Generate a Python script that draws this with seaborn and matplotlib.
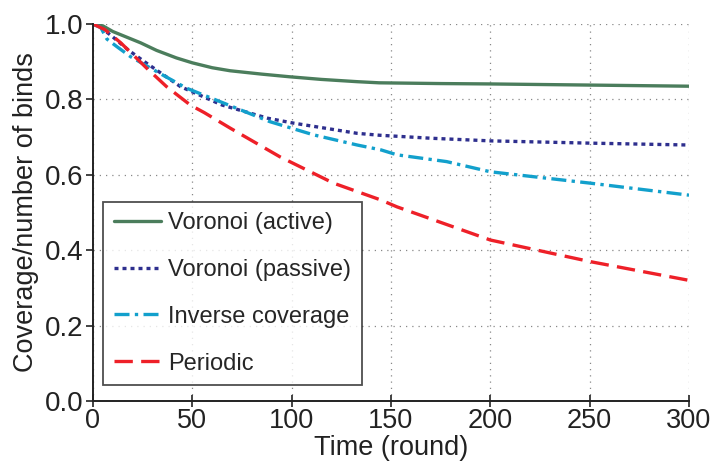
import numpy as np
import pandas as pd
import seaborn as sns
import matplotlib.pyplot as plt

# values
t_active = [0, 5, 10, 17, 24, 32, 42, 50, 60, 69, 85, 99, 115, 133, 144, 175, 200, 250, 300]
v_active = [1.0, 0.995, 0.98, 0.965, 0.95, 0.93, 0.91, 0.897, 0.884, 0.876, 0.867, 0.86, 0.853, 0.847, 0.844, 0.842, 0.841, 0.838, 0.835]

t_passive = [0, 4, 9, 18, 27, 44, 65, 88, 101, 133, 144, 170, 200, 250, 300]
v_passive = [1.0, 0.99, 0.97, 0.93, 0.896, 0.834, 0.785, 0.75, 0.737, 0.71, 0.705, 0.697, 0.69, 0.684, 0.679]

t_inverse = [0, 4, 7, 12, 19, 35, 47, 64, 89, 111, 133, 145, 153, 178, 200, 250, 300]
v_inverse = [1.0, 0.99, 0.96, 0.94, 0.913, 0.865, 0.83, 0.794, 0.741, 0.706, 0.679, 0.666, 0.653, 0.635, 0.608, 0.578, 0.546]

t_periodic = [0, 6, 14, 27, 37, 49, 56, 69, 94, 121, 145, 153, 200, 250, 300]
v_periodic = [1.0, 0.985, 0.95, 0.883, 0.834, 0.785, 0.765, 0.724, 0.648, 0.578, 0.533, 0.515, 0.427, 0.37, 0.32]

labels = ['Voronoi (active)', 'Voronoi (passive)', 'Inverse coverage', 'Periodic']
colors = ['#4b7d5c', '#2e2f8e', '#12a0cc', '#ee2028']
dashes = [(None, None), (1.2, 1.2), (4.5, 1.6, 1.0, 1.6), (5.5, 2.5)]

sns.set_style('ticks')
plt.rcParams['font.family'] = ['Liberation Sans', 'DejaVu Sans']

fig, ax = plt.subplots(figsize=(7.13, 4.67), dpi=100)
fig.subplots_adjust(left=93/713, right=689/713, bottom=1-401/467, top=1-24/467)

series = [(t_active, v_active), (t_passive, v_passive), (t_inverse, v_inverse), (t_periodic, v_periodic)]
for (t, v), lab, col, d in zip(series, labels, colors, dashes):
    line = sns.lineplot(x=t, y=v, ax=ax, color=col, label=lab, linewidth=2.4).lines[-1]
    if d[0] is not None:
        line.set_dashes(d)

ax.set_xlim(0, 300)
ax.set_ylim(0, 1.0)
ax.set_xticks([0, 50, 100, 150, 200, 250, 300])
ax.set_yticks([0, 0.2, 0.4, 0.6, 0.8, 1.0])
ax.set_yticklabels(['0.0', '0.2', '0.4', '0.6', '0.8', '1.0'])
ax.grid(True, linestyle=(0, (1, 4)), color='#888888', linewidth=0.9)
ax.tick_params(axis='both', labelsize=20, colors='#222222', width=1.2, length=5, pad=2)
ax.tick_params(axis='x', direction='inout', length=8, labelsize=19.5, pad=1)
ax.set_xlabel('Time (round)', fontsize=19.5, color='#222222', labelpad=0.5)
ax.set_ylabel('Coverage/number of binds', fontsize=19.5, color='#222222', labelpad=4)
for s in ['top', 'right']:
    ax.spines[s].set_visible(False)
for s in ['left', 'bottom']:
    ax.spines[s].set_linewidth(1.4)
    ax.spines[s].set_color('#222222')

leg = ax.legend(loc='lower left', bbox_to_anchor=(0.017, 0.042), fontsize=17, frameon=True,
                fancybox=False, edgecolor='#222222', handlelength=2.0, labelspacing=1.05,
                borderpad=0.45, handletextpad=0.3, borderaxespad=0)
leg.get_frame().set_linewidth(1.3)

fig.savefig('out.png', dpi=100)
